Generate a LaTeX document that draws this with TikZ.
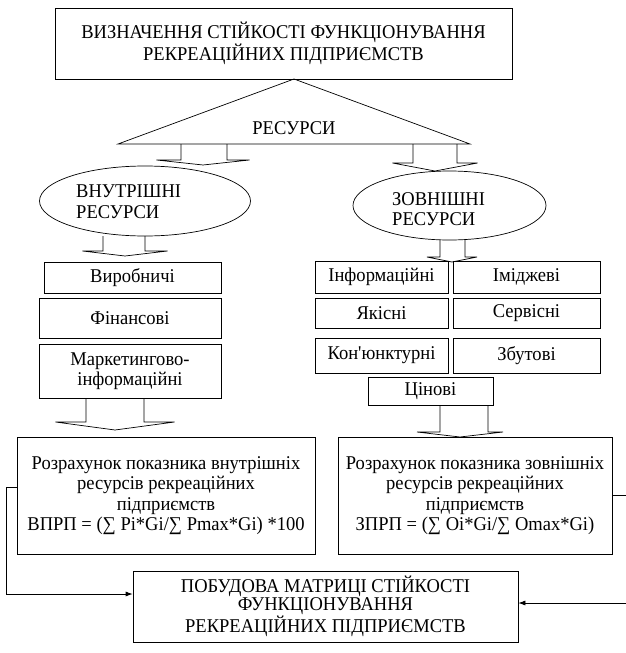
\documentclass[tikz,border=0pt]{standalone}
\usepackage{fontspec}
\usepackage{tikz}
\usetikzlibrary{shapes.geometric,arrows.meta,calc}
\setmainfont{Liberation Serif}[Ligatures=TeXOff, FakeStretch=0.95]

% hollow block arrow: start point, tip, half shaft, half head, head depth
\newcommand{\blockarrow}[5]{%
  \draw[blockline] let \p1=(#1), \p2=(#2) in
    (\x1-#3pt,\y1) -- (\x1-#3pt,\y2+#5pt) -- (\x2-#4pt,\y2+#5pt) -- (\p2)
    -- (\x2+#4pt,\y2+#5pt) -- (\x1+#3pt,\y2+#5pt) -- (\x1+#3pt,\y1);
}

\begin{document}
\begin{tikzpicture}[x=1pt,y=-1pt,
    txt/.style={font=\fontsize{19.5}{20.5}\selectfont},
    box/.style={draw, line width=0.7pt, fill=white, inner sep=0pt, align=center, txt},
    oval/.style={draw, ellipse, line width=0.7pt, inner sep=0pt},
    blockline/.style={line width=0.7pt},
    link/.style={line width=0.7pt, -{Latex[length=7pt,width=5pt]}}]

    \useasboundingbox (0,0) rectangle (626,653);

    \node[box, minimum width=457pt, minimum height=71pt] (goal) at (283.5,43.5)
        {ВИЗНАЧЕННЯ СТІЙКОСТІ ФУНКЦІОНУВАННЯ\\РЕКРЕАЦІЙНИХ ПІДПРИЄМСТВ};

    % resources triangle
    \coordinate (apex) at (294,79);
    \coordinate (baseL) at (118,144);
    \coordinate (baseR) at (470,144);
    \draw[blockline] (apex) -- (baseR) -- (baseL) -- cycle;
    \node[txt] (res) at (294,128) {РЕСУРСИ};

    % internal / external
    \node[oval, minimum width=211pt, minimum height=70pt] (inner) at (145,201) {};
    \node[txt, anchor=west, align=left, inner sep=0pt] (innerlbl) at (76,201.5) {ВНУТРІШНІ\\РЕСУРСИ};
    \node[oval, minimum width=193pt, minimum height=69pt] (outer) at (449.5,205.5) {};
    \node[txt, anchor=west, align=left, inner sep=0pt] (outerlbl) at (392,209) {ЗОВНІШНІ\\РЕСУРСИ};

    % internal resources
    \node[box, minimum width=177pt, minimum height=31pt] (prod) at (132.5,277.5) {Виробничі};
    \node[box, minimum width=182pt, minimum height=40pt] (fin) at (130,318) {Фінансові};
    \node[box, minimum width=182pt, minimum height=54pt] (mark) at (130,371) {Маркетингово-\\інформаційні};

    % external resources
    \node[box, minimum width=133pt, minimum height=32pt] (info) at (381.5,277) {Інформаційні};
    \node[box, minimum width=147pt, minimum height=32pt] (image) at (526.5,277) {Іміджеві};
    \node[box, minimum width=133pt, minimum height=30pt] (qual) at (381.5,313) {Якісні};
    \node[box, minimum width=147pt, minimum height=30pt] (serv) at (526.5,313) {Сервісні};
    \node[box, minimum width=133pt, minimum height=35pt] (conj) at (381.5,355.5) {Кон'юнктурні};
    \node[box, minimum width=147pt, minimum height=35pt] (sales) at (526.5,355.5) {Збутові};
    \node[box, minimum width=125pt, minimum height=28pt] (price) at (430.5,391) {Цінові};

    % indicators
    \node[box, minimum width=298pt, minimum height=117pt] (calcL) at (166,495.5)
        {Розрахунок показника внутрішніх\\ресурсів рекреаційних\\підприємств\\ВПРП = (∑ Pi*Gi/∑ Pmax*Gi) *100};
    \node[box, minimum width=274pt, minimum height=117pt] (calcR) at (475,495.5)
        {Розрахунок показника зовнішніх\\ресурсів рекреаційних\\підприємств\\ЗПРП = (∑ Oi*Gi/∑ Omax*Gi)};

    \node[box, minimum width=385pt, minimum height=71pt, font=\fontsize{19.5}{18}\selectfont] (matrix) at (325.5,606.5)
        {ПОБУДОВА МАТРИЦІ СТІЙКОСТІ\\ФУНКЦІОНУВАННЯ\\РЕКРЕАЦІЙНИХ ПІДПРИЄМСТВ};

    % block arrows
    \coordinate (a1s) at (204,144);   \coordinate (a1t) at (203,165);
    \coordinate (a2s) at (435,144);   \coordinate (a2t) at (435,171);
    \coordinate (a3s) at (124,236);   \coordinate (a3t) at (125,256);
    \coordinate (a4s) at (452.5,240); \coordinate (a4t) at (452,262);
    \coordinate (a5s) at (115,398);   \coordinate (a5t) at (115,430);
    \coordinate (a6s) at (464,405);   \coordinate (a6t) at (460,437);
    \blockarrow{a1s}{a1t}{23}{46.5}{5}
    \blockarrow{a2s}{a2t}{22}{42.5}{8}
    \blockarrow{a3s}{a3t}{21}{42.5}{5}
    \blockarrow{a4s}{a4t}{12.5}{25}{5}
    \blockarrow{a5s}{a5t}{29}{59.5}{8}
    \blockarrow{a6s}{a6t}{24}{43}{5}

    % links to matrix
    \draw[link] ([yshift=8.5pt]calcL.west) -- ++(-10,0) |- ([yshift=12.5pt]matrix.west);
    \draw[link] ([yshift=0.5pt]calcR.east) -- ++(16,0) |- ([yshift=3.5pt]matrix.east);

\end{tikzpicture}
\end{document}
